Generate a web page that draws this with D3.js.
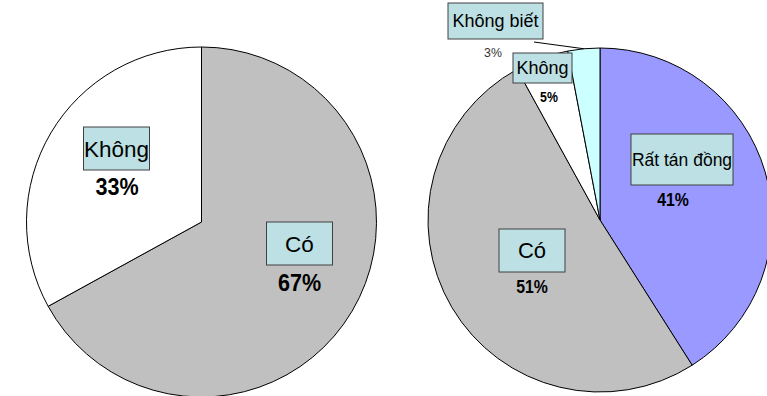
<!DOCTYPE html>
<html>
<head>
<meta charset="utf-8">
<script src="https://cdn.jsdelivr.net/npm/d3@7"></script>
<style>
  html, body { margin: 0; padding: 0; background: #fff; }
  svg { display: block; }
  .cat { font-family: "Liberation Sans", Arial, sans-serif; fill: #000; }
  .pct { font-family: "Liberation Sans", Arial, sans-serif; }
</style>
</head>
<body>
<svg id="chart" width="767" height="396"></svg>
<script>
// Left pie: "Có" / "Không"
const leftCategories = ["Có", "Không"];
const leftValues = [67, 33];

// Right pie: four answers
const rightCategories = ["Rất tán đồng", "Có", "Không", "Không biết"];
const rightValues = [41, 51, 5, 3];

// Slice colours per category
const leftColors = ["#C0C0C0", "#FFFFFF"];
const rightColors = ["#9999FF", "#C0C0C0", "#FFFFFF", "#CCFFFF"];

// Label layout: box centre (bx, by) relative to the pie centre, box size, font sizes,
// and percentage text position (px, py) relative to the pie centre.
const leftLabels = [
  { bx: 98, by: 21.5, w: 66, h: 43, fs: 22.5, px: 98, py: 60, pfs: 24.5, bold: true },
  { bx: -85, by: -73.5, w: 66, h: 43, fs: 22.5, px: -84.5, py: -35.5, pfs: 24.5, bold: true }
];
const rightLabels = [
  { bx: 82, by: -60.5, w: 102, h: 51, fs: 17.5, px: 73, py: -20, pfs: 18, bold: true },
  { bx: -68, by: 30.5, w: 66, h: 43, fs: 22, px: -68, py: 67, pfs: 18, bold: true },
  { bx: -57.5, by: -152, w: 59, h: 30, fs: 18, px: -51, py: -123, pfs: 14, bold: true },
  { bx: -104.5, by: -199, w: 95, h: 36, fs: 18, px: -107, py: -168, pfs: 13, bold: false, leader: { x: -66, y: -178 } }
];

const svg = d3.select("#chart");

function drawPie(cx, cy, r, categories, values, colors, labels) {
  const data = categories.map((c, i) => ({ cat: c, value: values[i], color: colors[i], lab: labels[i] }));
  const pie = d3.pie().sort(null).value(d => d.value).startAngle(0).endAngle(2 * Math.PI);
  const arcs = pie(data);
  const arc = d3.arc().innerRadius(0).outerRadius(r);

  const g = svg.append("g").attr("transform", `translate(${cx},${cy})`);

  g.selectAll("path.slice")
    .data(arcs)
    .join("path")
    .attr("class", "slice")
    .attr("d", arc)
    .attr("fill", d => d.data.color)
    .attr("stroke", "#000")
    .attr("stroke-width", 1)
    .attr("stroke-linejoin", "round");

  // leader lines, ending on the middle of the slice's outer edge
  arcs.filter(d => d.data.lab.leader).forEach(d => {
    const mid = (d.startAngle + d.endAngle) / 2;
    const ex = Math.sin(mid) * r, ey = -Math.cos(mid) * r;
    g.append("line")
      .attr("x1", d.data.lab.leader.x).attr("y1", d.data.lab.leader.y)
      .attr("x2", ex).attr("y2", ey)
      .attr("stroke", "#000").attr("stroke-width", 1);
  });

  const lg = g.selectAll("g.label").data(arcs).join("g").attr("class", "label");

  lg.append("rect")
    .attr("x", d => d.data.lab.bx - d.data.lab.w / 2)
    .attr("y", d => d.data.lab.by - d.data.lab.h / 2)
    .attr("width", d => d.data.lab.w)
    .attr("height", d => d.data.lab.h)
    .attr("fill", "#BCE0E3")
    .attr("stroke", "#404040")
    .attr("stroke-width", 1);

  lg.append("text")
    .attr("class", "cat")
    .attr("x", d => d.data.lab.bx)
    .attr("y", d => d.data.lab.by)
    .attr("dy", "0.36em")
    .attr("text-anchor", "middle")
    .attr("font-size", d => d.data.lab.fs)
    .text(d => d.data.cat);

  // percentages in a condensed bold face
  lg.append("text")
    .attr("class", "pct")
    .attr("transform", d => `translate(${d.data.lab.px},${d.data.lab.py}) scale(${d.data.lab.bold ? 0.88 : 0.95},1)`)
    .attr("dy", "0.36em")
    .attr("text-anchor", "middle")
    .attr("font-size", d => d.data.lab.pfs)
    .style("font-weight", d => d.data.lab.bold ? "bold" : "normal")
    .attr("fill", d => d.data.lab.bold ? "#000" : "#333")
    .text(d => `${d.data.value}%`);
}

drawPie(201.5, 222, 175, leftCategories, leftValues, leftColors, leftLabels);
drawPie(600, 220, 172, rightCategories, rightValues, rightColors, rightLabels);
</script>
</body>
</html>
